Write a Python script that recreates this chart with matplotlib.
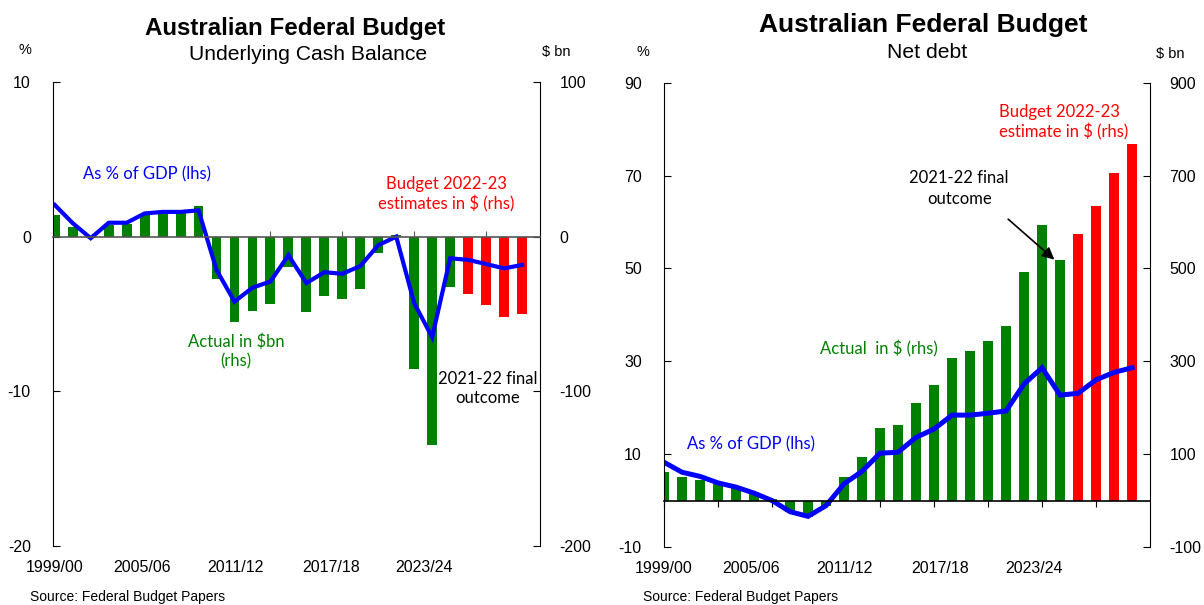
import matplotlib
matplotlib.use("Agg")
import matplotlib.pyplot as plt
import numpy as np

# ---------------- data ----------------
years = ["1999/00", "2000/01", "2001/02", "2002/03", "2003/04", "2004/05", "2005/06",
         "2006/07", "2007/08", "2008/09", "2009/10", "2010/11", "2011/12", "2012/13",
         "2013/14", "2014/15", "2015/16", "2016/17", "2017/18", "2018/19", "2019/20",
         "2020/21", "2021/22", "2022/23", "2023/24", "2024/25", "2025/26"]
n_actual = 23  # 1999/00 .. 2021/22 actual, rest budget estimates

ucb_bn = [14.0, 6.5, -1.0, 7.5, 8.0, 13.8, 15.5, 17.5, 20.0, -27.5, -55.0, -48.0,
          -43.8, -19.3, -49.0, -38.4, -40.0, -33.6, -10.6, 1.0, -85.8, -134.8, -32.4,
          -37.3, -44.5, -51.8, -50.2]
ucb_gdp = [2.05, 0.87, -0.1, 0.9, 0.9, 1.5, 1.6, 1.6, 1.7, -2.15, -4.2, -3.3, -2.9,
           -1.2, -3.0, -2.3, -2.4, -1.9, -0.55, 0.0, -4.3, -6.5, -1.4, -1.5, -1.77,
           -2.05, -1.83]

debt_bn = [61, 50, 44, 36, 29, 18, 3.6, -25, -36, -11, 51, 94, 157, 162, 211, 249,
           306, 323, 344, 376, 493, 594, 518, 574, 635, 705, 767]
debt_gdp = [8.25, 6.1, 5.2, 3.8, 2.9, 1.6, 0.0, -2.4, -3.4, -1.1, 3.6, 6.3, 10.2, 10.4,
            13.6, 15.4, 18.4, 18.4, 18.8, 19.3, 25.1, 28.6, 22.7, 23.1, 26.0, 27.6, 28.6]

xlabels = ["1999/00", "2005/06", "2011/12", "2017/18", "2023/24"]

GREEN = "#008000"
RED = "#ff0000"
BLUE = "#0000ff"
TICKFONT = "Liberation Sans"
ANNFONT = "Lato"

plt.rcParams["font.family"] = [TICKFONT, "DejaVu Sans"]
plt.rcParams["axes.unicode_minus"] = False

fig = plt.figure(figsize=(12.04, 6.05), dpi=100)

x = np.arange(len(years))
bar_colors = [GREEN if i < n_actual else RED for i in range(len(years))]
label_pos = [0.0, 4.85, 10.05, 15.35, 20.55]


def setup(ax, ax2, lhs_lim, rhs_lim, lhs_ticks, rhs_ticks, xticks, tickdir, zero_col, xlim):
    ax.set_zorder(ax2.get_zorder() + 1)
    ax.patch.set_visible(False)
    for a in (ax, ax2):
        a.spines["top"].set_visible(False)
    ax.spines["right"].set_visible(False)
    ax2.spines["left"].set_visible(False)
    ax2.spines["bottom"].set_visible(False)
    ax.spines["bottom"].set_position(("data", 0))
    ax.spines["bottom"].set_color(zero_col)
    ax.spines["bottom"].set_linewidth(1.2)
    ax.set_ylim(*lhs_lim)
    ax2.set_ylim(*rhs_lim)
    ax.set_yticks(lhs_ticks)
    ax2.set_yticks(rhs_ticks)
    ax.tick_params(axis="y", direction="in", length=5, labelsize=11.5, pad=16)
    ax2.tick_params(axis="y", direction="in", length=5, labelsize=11.5, pad=14)
    ax.set_xticks(xticks)
    ax.set_xticklabels([])
    ax.tick_params(axis="x", direction=tickdir, length=4, color=zero_col)
    ax.set_xlim(*xlim)
    ax2.set_xlim(*xlim)
    sec = ax.secondary_xaxis("bottom")
    sec.spines["bottom"].set_visible(False)
    sec.set_xticks(label_pos)
    sec.set_xticklabels(xlabels)
    sec.tick_params(axis="x", length=0, labelsize=11.5, pad=10)
    return sec


# ---------------- left: underlying cash balance ----------------
axL = fig.add_axes([0.044, 0.0975, 0.4045, 0.767])
axL2 = axL.twinx()
axL2.bar(x, ucb_bn, width=0.55, color=bar_colors)
axL.plot(x, ucb_gdp, color=BLUE, lw=3.0, solid_joinstyle="miter")
setup(axL, axL2, (-20, 10), (-200, 100), [-20, -10, 0, 10], [-200, -100, 0, 100],
      [0, 4, 8, 12, 16, 20, 24], "in", "#555555", (-0.1, 27.0))

axL.text(1.56, 4.0, "As % of GDP (lhs)", color=BLUE, fontsize=12, family=ANNFONT,
         ha="left", va="center")
axL.text(21.8, 2.75, "Budget 2022-23\nestimates in $ (rhs)", color=RED, fontsize=12,
         family=ANNFONT, ha="center", va="center", linespacing=1.25)
axL.text(10.1, -7.45, "Actual in $bn\n(rhs)", color=GREEN, fontsize=12, family=ANNFONT,
         ha="center", va="center", linespacing=1.25)
axL.text(24.1, -9.8, "2021-22 final\noutcome", color="black", fontsize=12,
         family=ANNFONT, ha="center", va="center", linespacing=1.25)

# ---------------- right: net debt ----------------
axR = fig.add_axes([0.5515, 0.0959, 0.4037, 0.7675])
axR2 = axR.twinx()
axR2.bar(x, debt_bn, width=0.55, color=bar_colors)
axR.plot(x, debt_gdp, color=BLUE, lw=3.6, solid_joinstyle="miter")
setup(axR, axR2, (-10, 90), (-100, 900), [-10, 10, 30, 50, 70, 90],
      [-100, 100, 300, 500, 700, 900], list(range(0, 27, 3)), "out", "black", (0.0, 27.0))

axR.text(18.6, 81.5, "Budget 2022-23\nestimate in $ (rhs)", color=RED, fontsize=12,
         family=ANNFONT, ha="left", va="center", linespacing=1.25)
axR.text(16.4, 67.2, "2021-22 final\noutcome", color="black", fontsize=12,
         family=ANNFONT, ha="center", va="center", linespacing=1.4)
axR.text(8.65, 32.6, "Actual  in $ (rhs)", color=GREEN, fontsize=12, family=ANNFONT,
         ha="left", va="center")
axR.text(1.3, 12.2, "As % of GDP (lhs)", color=BLUE, fontsize=12, family=ANNFONT,
         ha="left", va="center")
axR.annotate("", xy=(21.8, 51.5), xytext=(19.0, 61.0),
             arrowprops=dict(arrowstyle="-|>", color="black", lw=1.2, mutation_scale=18))

# ---------------- titles & labels ----------------
W, H = 1204, 605


def ftext(px, py, s, **kw):
    fig.text(px / W, 1 - py / H, s, **kw)


ftext(295, 28, "Australian Federal Budget", fontsize=17.4, fontweight="bold",
      ha="center", va="center")
ftext(308, 55, "Underlying Cash Balance", fontsize=15.2, ha="center", va="center")
ftext(923, 25, "Australian Federal Budget", fontsize=19, fontweight="bold",
      ha="center", va="center")
ftext(927, 52, "Net debt", fontsize=15.2, ha="center", va="center")

ftext(25, 50, "%", fontsize=10.5, ha="center", va="center")
ftext(556, 52, "$ bn", fontsize=10.5, ha="center", va="center")
ftext(643, 52, "%", fontsize=10.5, ha="center", va="center")
ftext(1170, 54, "$ bn", fontsize=10.5, ha="center", va="center")

ftext(30, 597, "Source: Federal Budget Papers", fontsize=10, ha="left", va="center")
ftext(643, 597, "Source: Federal Budget Papers", fontsize=10, ha="left", va="center")

fig.savefig("out.png", dpi=100)
